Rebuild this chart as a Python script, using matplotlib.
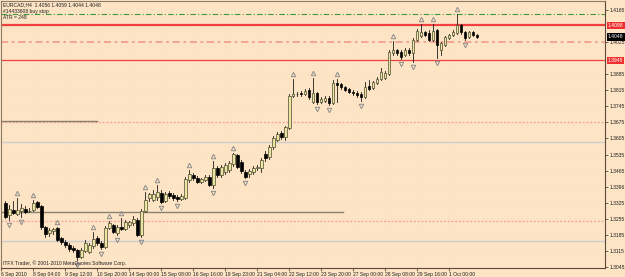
import matplotlib
matplotlib.use('Agg')
import matplotlib.pyplot as plt
from matplotlib.patches import Rectangle
from matplotlib.transforms import offset_copy

# ---------------- data (EURCAD H4) ----------------
opens = [1.3324, 1.3272, 1.3294, 1.3276, 1.3289, 1.3298, 1.3289, 1.3294, 1.3328, 1.3311,
         1.3220, 1.3193, 1.3202, 1.3215, 1.3172, 1.3154, 1.3141, 1.3128, 1.3119, 1.3089,
         1.3115, 1.3111, 1.3137, 1.3172, 1.3150, 1.3132, 1.3215, 1.3228, 1.3193, 1.3220,
         1.3211, 1.3228, 1.3237, 1.3250, 1.3185, 1.3289, 1.3346, 1.3337, 1.3350, 1.3368,
         1.3333, 1.3368, 1.3359, 1.3350, 1.3342, 1.3346, 1.3424, 1.3446, 1.3433, 1.3416,
         1.3424, 1.3437, 1.3403, 1.3477, 1.3446, 1.3459, 1.3468, 1.3494, 1.3533, 1.3503,
         1.3459, 1.3450, 1.3459, 1.3477, 1.3477, 1.3538, 1.3525, 1.3568, 1.3599, 1.3629,
         1.3612, 1.3651, 1.3790, 1.3799, 1.3803, 1.3799, 1.3816, 1.3764, 1.3803, 1.3764,
         1.3768, 1.3782, 1.3760, 1.3847, 1.3843, 1.3830, 1.3821, 1.3808, 1.3803, 1.3799,
         1.3786, 1.3834, 1.3825, 1.3847, 1.3864, 1.3869, 1.3886, 1.3978, 1.3991, 1.3982,
         1.3969, 1.3991, 1.3978, 1.4034, 1.4052, 1.4069, 1.4065, 1.4034, 1.4078, 1.3991,
         1.4012, 1.4043, 1.4056, 1.4065, 1.4100, 1.4069, 1.4047, 1.4069, 1.4056]
highs = [1.3333, 1.3315, 1.3333, 1.3346, 1.3320, 1.3311, 1.3302, 1.3337, 1.3333, 1.3315,
         1.3224, 1.3215, 1.3215, 1.3220, 1.3176, 1.3163, 1.3150, 1.3137, 1.3124, 1.3128,
         1.3163, 1.3150, 1.3198, 1.3180, 1.3158, 1.3224, 1.3246, 1.3233, 1.3228, 1.3259,
         1.3250, 1.3246, 1.3267, 1.3259, 1.3298, 1.3372, 1.3368, 1.3381, 1.3403, 1.3381,
         1.3372, 1.3376, 1.3368, 1.3359, 1.3363, 1.3437, 1.3468, 1.3455, 1.3442, 1.3433,
         1.3446, 1.3446, 1.3507, 1.3485, 1.3490, 1.3498, 1.3507, 1.3542, 1.3538, 1.3511,
         1.3468, 1.3472, 1.3485, 1.3490, 1.3520, 1.3551, 1.3577, 1.3616, 1.3633, 1.3638,
         1.3660, 1.3799, 1.3864, 1.3808, 1.3812, 1.3821, 1.3825, 1.3869, 1.3808, 1.3786,
         1.3790, 1.3790, 1.3860, 1.3864, 1.3847, 1.3834, 1.3825, 1.3816, 1.3812, 1.3808,
         1.3851, 1.3860, 1.3856, 1.3873, 1.3912, 1.3899, 1.3991, 1.4030, 1.3995, 1.3991,
         1.3999, 1.3999, 1.4043, 1.4082, 1.4104, 1.4074, 1.4078, 1.4103, 1.4082, 1.4026,
         1.4052, 1.4060, 1.4078, 1.4148, 1.4104, 1.4074, 1.4074, 1.4074, 1.4059]
lows = [1.3259, 1.3250, 1.3276, 1.3272, 1.3263, 1.3280, 1.3285, 1.3289, 1.3302, 1.3211,
        1.3176, 1.3180, 1.3189, 1.3158, 1.3145, 1.3132, 1.3115, 1.3111, 1.3076, 1.3084,
        1.3111, 1.3106, 1.3128, 1.3141, 1.3124, 1.3128, 1.3211, 1.3193, 1.3185, 1.3206,
        1.3206, 1.3220, 1.3228, 1.3180, 1.3176, 1.3285, 1.3333, 1.3333, 1.3337, 1.3324,
        1.3328, 1.3346, 1.3337, 1.3333, 1.3337, 1.3342, 1.3416, 1.3424, 1.3411, 1.3411,
        1.3420, 1.3398, 1.3389, 1.3437, 1.3437, 1.3450, 1.3459, 1.3485, 1.3477, 1.3455,
        1.3433, 1.3437, 1.3450, 1.3468, 1.3459, 1.3507, 1.3516, 1.3559, 1.3594, 1.3603,
        1.3599, 1.3647, 1.3786, 1.3790, 1.3790, 1.3795, 1.3777, 1.3760, 1.3755, 1.3760,
        1.3764, 1.3751, 1.3755, 1.3764, 1.3821, 1.3812, 1.3803, 1.3795, 1.3786, 1.3768,
        1.3782, 1.3816, 1.3821, 1.3843, 1.3860, 1.3864, 1.3882, 1.3969, 1.3969, 1.3953,
        1.3965, 1.3969, 1.3938, 1.4030, 1.4047, 1.4052, 1.4030, 1.4030, 1.3956, 1.3969,
        1.4008, 1.4039, 1.4052, 1.4060, 1.4060, 1.4034, 1.4043, 1.4052, 1.4044]
closes = [1.3263, 1.3298, 1.3280, 1.3294, 1.3302, 1.3285, 1.3290, 1.3324, 1.3307, 1.3220,
          1.3189, 1.3206, 1.3211, 1.3163, 1.3154, 1.3141, 1.3124, 1.3119, 1.3089, 1.3119,
          1.3150, 1.3141, 1.3167, 1.3150, 1.3132, 1.3215, 1.3237, 1.3198, 1.3220, 1.3211,
          1.3241, 1.3241, 1.3254, 1.3185, 1.3289, 1.3337, 1.3363, 1.3363, 1.3372, 1.3328,
          1.3363, 1.3355, 1.3346, 1.3342, 1.3355, 1.3429, 1.3450, 1.3433, 1.3416, 1.3429,
          1.3437, 1.3403, 1.3477, 1.3446, 1.3481, 1.3490, 1.3498, 1.3538, 1.3481, 1.3464,
          1.3437, 1.3464, 1.3477, 1.3481, 1.3511, 1.3520, 1.3568, 1.3607, 1.3625, 1.3612,
          1.3655, 1.3790, 1.3799, 1.3800, 1.3799, 1.3812, 1.3786, 1.3803, 1.3764, 1.3777,
          1.3782, 1.3760, 1.3847, 1.3838, 1.3830, 1.3816, 1.3808, 1.3803, 1.3795, 1.3786,
          1.3830, 1.3821, 1.3851, 1.3864, 1.3895, 1.3890, 1.3982, 1.3991, 1.3978, 1.3960,
          1.3991, 1.3978, 1.4034, 1.4074, 1.4069, 1.4056, 1.4034, 1.4074, 1.4012, 1.4021,
          1.4047, 1.4056, 1.4069, 1.4100, 1.4069, 1.4043, 1.4069, 1.4056, 1.4048]

up_fractals = [3, 7, 13, 22, 26, 29, 35, 38, 46, 52, 57, 72, 77, 83, 97, 104, 107, 113]
down_fractals = [1, 4, 18, 24, 28, 34, 39, 43, 52, 60, 78, 81, 89, 99, 102, 108, 115]

xtick_labels = ['6 Sep 2010', '8 Sep 04:00', '9 Sep 12:00', '10 Sep 20:00', '14 Sep 00:00',
                '15 Sep 08:00', '16 Sep 16:00', '19 Sep 23:00', '21 Sep 04:00', '22 Sep 12:00',
                '23 Sep 20:00', '27 Sep 00:00', '28 Sep 08:00', '29 Sep 16:00', '1 Oct 00:00']
xtick_bars = [-1, 7, 15, 23, 31, 39, 47, 55, 63, 71, 79, 87, 95, 103, 111]

ytick_values = [1.3045, 1.3115, 1.3185, 1.3255, 1.3325, 1.3395, 1.3465, 1.3535, 1.3605,
                1.3675, 1.3745, 1.3815, 1.3885, 1.4025, 1.4165]
ytick_labels = ['1.3045', '1.3115', '1.3185', '1.3255', '1.3325', '1.3396', '1.3465', '1.3535',
                '1.3605', '1.3675', '1.3745', '1.3815', '1.3885', '1.4025', '1.4165']

# horizontal levels
buy_stop_level = 1.4147
resistance_level = 1.4098
dashdot_level = 1.4025
support_level = 1.3945
pink_levels = [1.3675, 1.3245]
light_gray_levels = [1.3590, 1.3158]
short_lines = [(1.3681, -1.25, 23.0), (1.3285, -1.25, 84.5)]  # level, from bar, to bar

title_text = 'EURCAD,H4  1.4056 1.4059 1.4044 1.4048'
order_text = '#14433608 buy stop'
atr_text = 'ATR = 248'
copyright_text = 'ITFX Trader, \u00a9 2001-2010 MetaQuotes Software Corp.'

# ---------------- style ----------------
BG = '#fde4c4'
FRAME = '#5a4a3e'
BULL = '#ece4a0'
FONT = 'Liberation Sans'
plt.rcParams['font.family'] = [FONT, 'DejaVu Sans']

W, H = 625, 277
fig = plt.figure(figsize=(W / 100, H / 100), dpi=100)
fig.patch.set_facecolor(BG)
ax = fig.add_axes([0.5 / W, 9 / H, 604.5 / W, 267 / H])
ax.set_facecolor(BG)
ax.set_xlim(-1.25, 150)
ax.set_ylim(1.30406, 1.42040)

for s in ax.spines.values():
    s.set_color(FRAME)
    s.set_linewidth(0.8)
ax.spines['left'].set_color('#8a7a6a')
ax.spines['top'].set_color('#8a7a6a')

# faint grid
for v in ytick_values:
    ax.axhline(v, color='#f2d2b2', lw=0.5, ls=(0, (1, 6)), zorder=0)
for b in xtick_bars:
    ax.axvline(b, color='#f2d2b2', lw=0.5, ls=(0, (1, 6)), zorder=0)

# horizontal lines
ax.axhline(buy_stop_level, color='#3c9a3c', lw=0.8, ls=(0, (5, 2, 1, 2)), zorder=1)
ax.axhline(resistance_level, color='#f04040', lw=1.6, zorder=1)
ax.axhline(dashdot_level, color='#f3a090', lw=1.3, ls=(0, (4, 2, 1.5, 2)), zorder=1)
ax.axhline(support_level, color='#f04040', lw=0.9, zorder=1)
for lv in pink_levels:
    ax.axhline(lv, color='#f4a0a0', lw=0.9, ls=(0, (1.5, 1.5)), zorder=1)
for lv in light_gray_levels:
    ax.axhline(lv, color='#cccccc', lw=1.0, zorder=1)
for lv, x0, x1 in short_lines:
    ax.plot([x0, x1], [lv, lv], color='#8a8070', lw=1.0, zorder=1)

# candles
bw = 0.62
for i, (o, h, l, c) in enumerate(zip(opens, highs, lows, closes)):
    ax.plot([i, i], [l, h], color='#1a1a1a', lw=0.6, zorder=3)
    bottom = min(o, c)
    height = max(abs(c - o), 0.00005)
    if c >= o:
        rect = Rectangle((i - bw / 2, bottom), bw, height, facecolor=BULL,
                         edgecolor='#4a4a30', lw=0.5, zorder=4)
    else:
        rect = Rectangle((i - bw / 2, bottom), bw, height, facecolor='#000000',
                         edgecolor='#000000', lw=0.5, zorder=4)
    ax.add_patch(rect)

# fractal arrows
up_tr = offset_copy(ax.transData, fig=fig, x=0, y=5, units='dots')
dn_tr = offset_copy(ax.transData, fig=fig, x=0, y=-5, units='dots')
ax.plot(up_fractals, [highs[i] for i in up_fractals], ls='none', marker='^',
        ms=3.2, mfc='none', mec='#8c8c8c', mew=0.7, transform=up_tr, zorder=5)
ax.plot(down_fractals, [lows[i] for i in down_fractals], ls='none', marker='v',
        ms=3.2, mfc='none', mec='#8c8c8c', mew=0.7, transform=dn_tr, zorder=5)

# axes ticks
ax.yaxis.tick_right()
ax.set_yticks(ytick_values)
ax.set_yticklabels(ytick_labels)
ax.tick_params(axis='y', length=2, width=0.6, color=FRAME, pad=1.5, labelsize=3.6,
               labelcolor='#202020')
ax.set_xticks(xtick_bars)
ax.set_xticklabels(xtick_labels)
ax.tick_params(axis='x', length=2, width=0.6, color=FRAME, pad=1.2, labelsize=3.6,
               labelcolor='#202020')
for t in ax.get_xticklabels():
    t.set_horizontalalignment('left')

# price boxes on right scale
box_specs = [(resistance_level, '#f03030', 'white'), (closes[-1], '#000000', 'white'),
             (support_level, '#f03030', 'white')]
for lv, fc, tc in box_specs:
    ax.annotate(f'{lv:.4f}', xy=(1.0, lv), xycoords=('axes fraction', 'data'),
                xytext=(2, 0), textcoords='offset points', fontsize=3.6, color=tc,
                va='center', ha='left',
                bbox=dict(boxstyle='square,pad=0.25', fc=fc, ec=fc, lw=0))

# texts
kw = dict(fontsize=3.6, color='#202020', ha='left', va='center')
fig.text(3 / W, 1 - 5 / H, title_text, **kw)
fig.text(3 / W, 1 - 12 / H, order_text, **kw)
fig.text(3 / W, 1 - 17.5 / H, atr_text, **kw)
fig.text(3 / W, 1 - 263 / H, copyright_text, **kw)

fig.savefig('out.png', dpi=100, facecolor=BG)
